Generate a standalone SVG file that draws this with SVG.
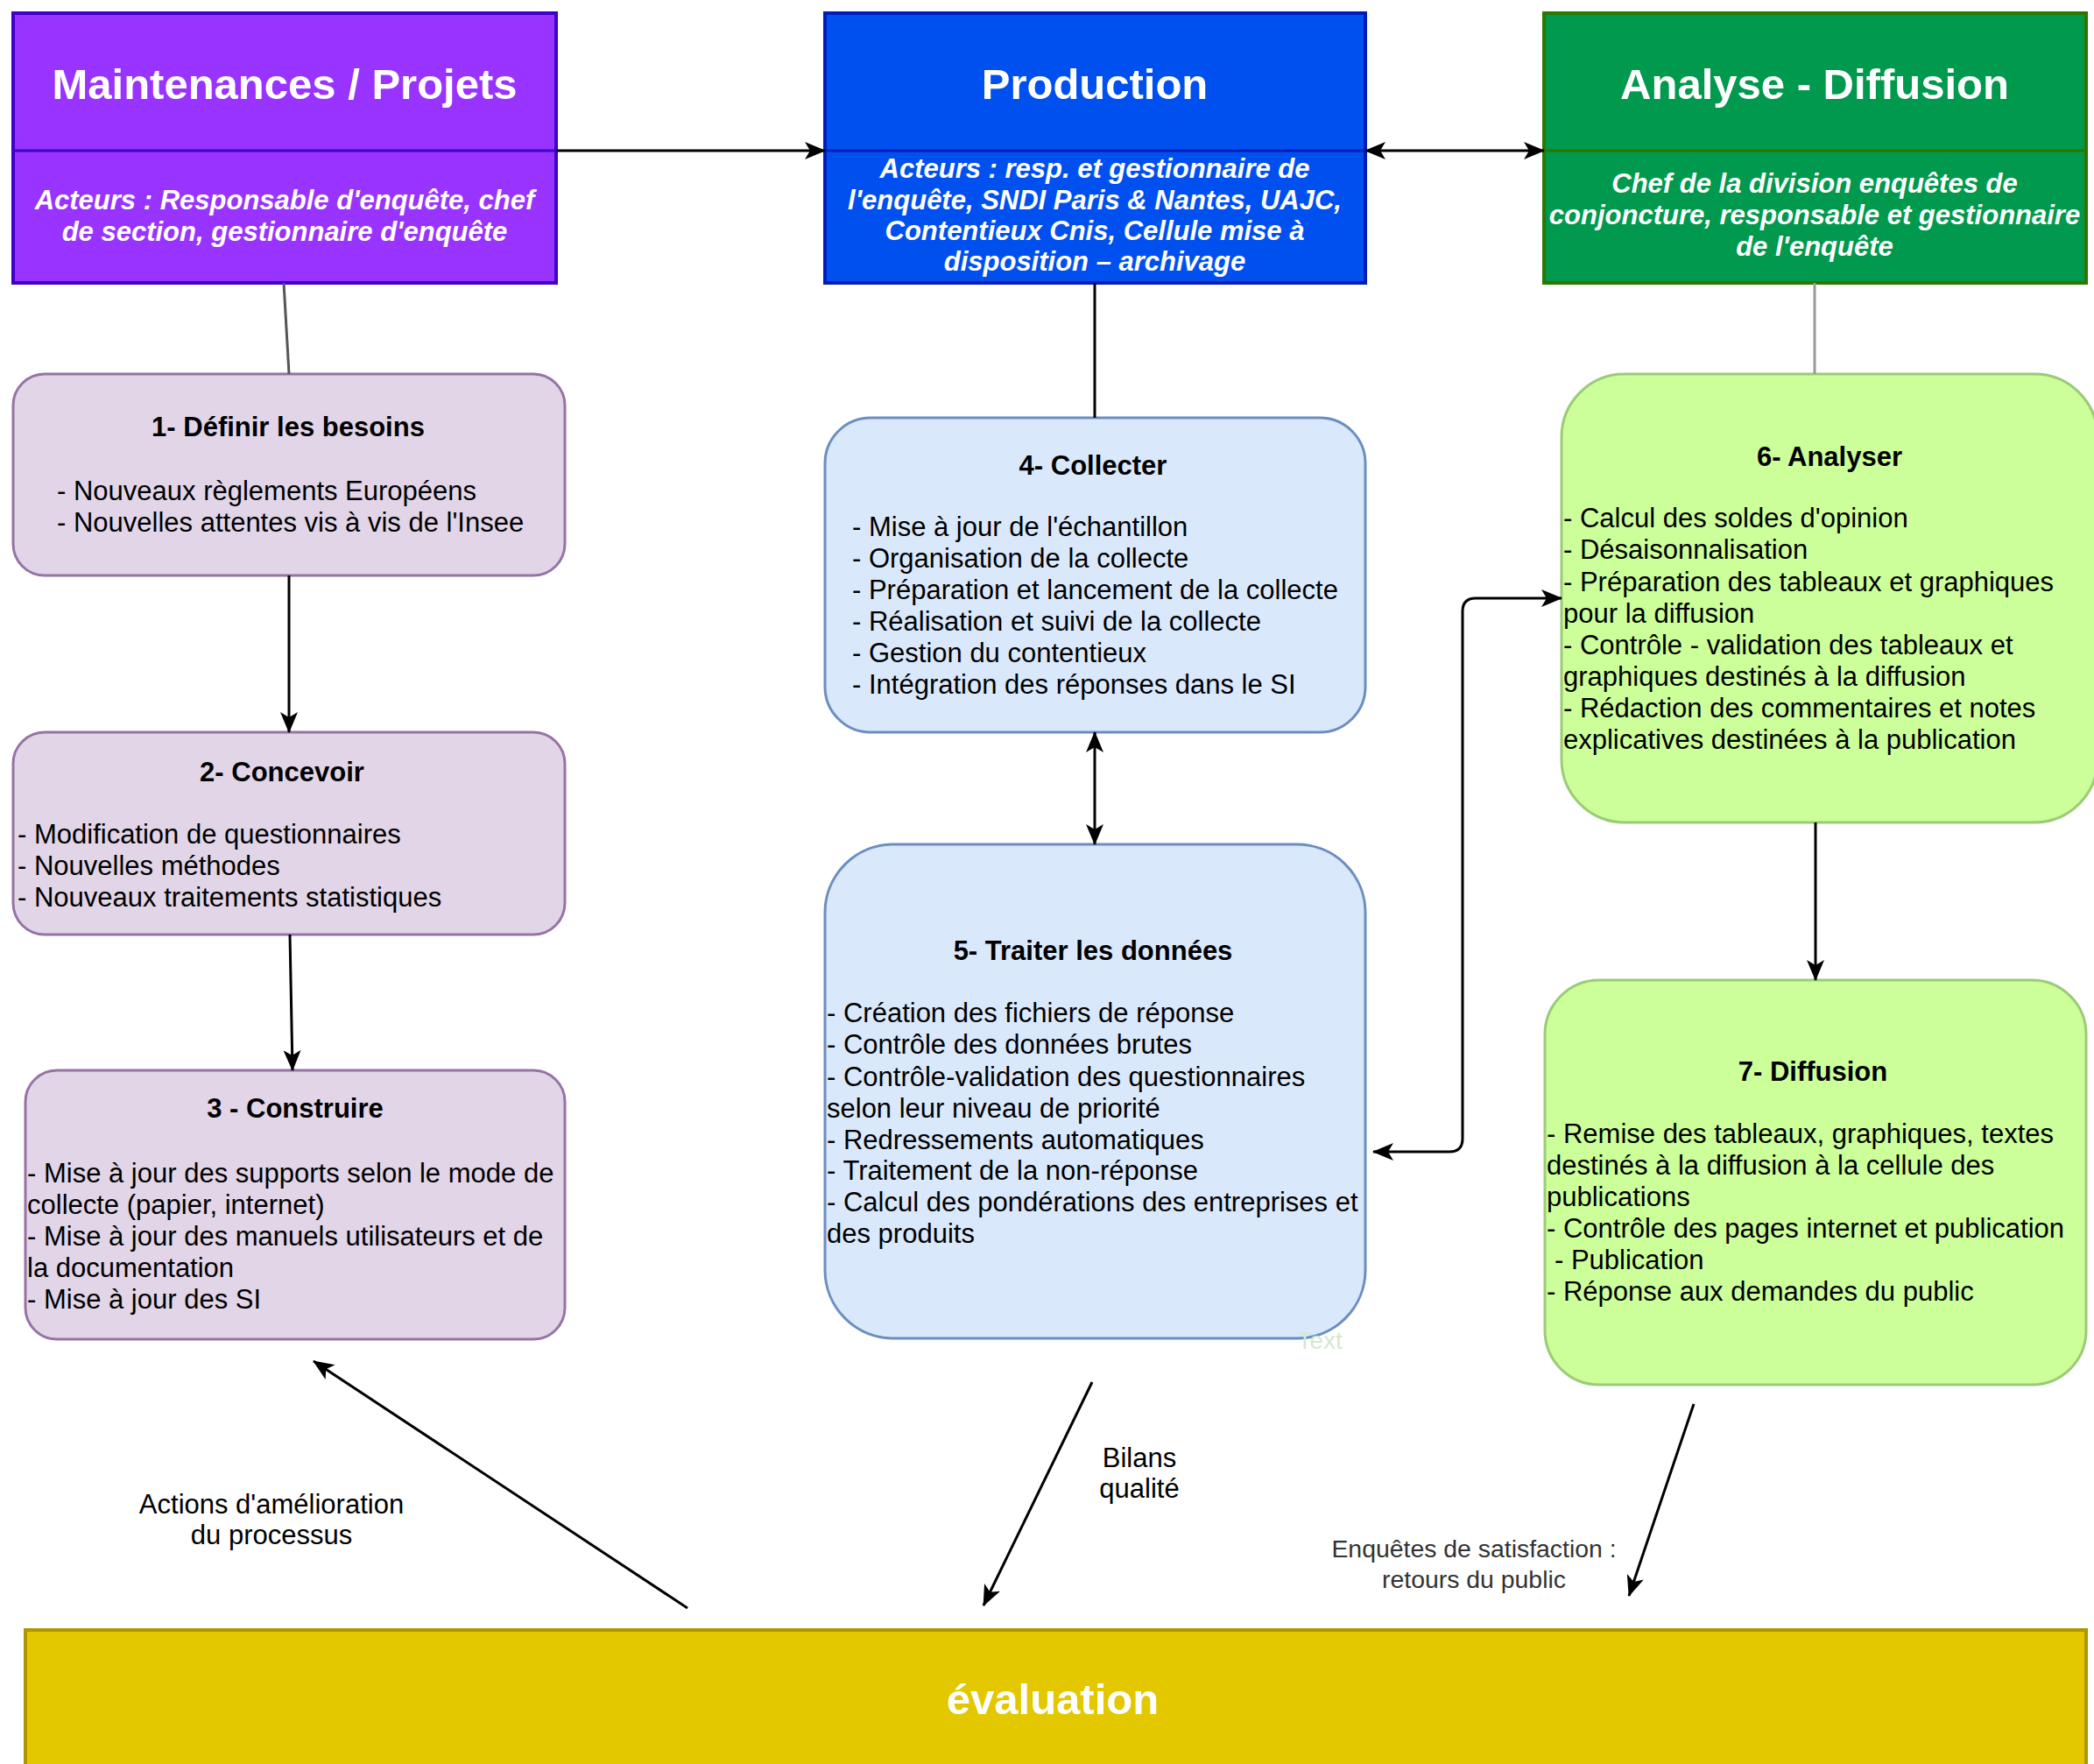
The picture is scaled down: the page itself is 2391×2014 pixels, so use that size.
<svg xmlns="http://www.w3.org/2000/svg" width="2391" height="2014" viewBox="0 0 2391 2014">
<defs>
<marker id="arr" markerUnits="userSpaceOnUse" markerWidth="24" markerHeight="20" viewBox="0 0 24 20" refX="23" refY="10" orient="auto-start-reverse">
<path d="M0,0 L24,10 L0,20 L6,10 z" fill="#000"/>
</marker>
<style>
text{font-family:"Liberation Sans",Arial,sans-serif;}
.ht{font-size:49px;font-weight:bold;fill:#fff;text-anchor:middle;}
.hs{font-size:31px;font-weight:bold;font-style:italic;fill:#fff;text-anchor:middle;}
.t{font-size:31px;font-weight:bold;fill:#000;text-anchor:middle;}
.b{font-size:31px;fill:#000;}
.lbl{font-size:31px;fill:#000;text-anchor:middle;}
.lbl2{font-size:28.4px;fill:#333;text-anchor:middle;}
.pur{fill:#E1D5E7;stroke:#9673A6;stroke-width:3;}
.blu{fill:#DAE8FC;stroke:#6C8EBF;stroke-width:3;}
.grn{fill:#CCFF99;stroke:#9CCB78;stroke-width:3;}
.c{fill:none;stroke:#000;stroke-width:3;}
</style>
</defs>

<g id="header-maintenances">
<rect x="15" y="15" width="620" height="308" fill="#9933FF" stroke="#3F00CC" stroke-width="4"/>
<line x1="15" y1="172" x2="635" y2="172" stroke="#3F00CC" stroke-width="3"/>
<text class="ht" x="325" y="113">Maintenances / Projets</text>
<text class="hs" x="325" y="239">Acteurs : Responsable d'enquête, chef</text>
<text class="hs" x="325" y="275">de section, gestionnaire d'enquête</text>
</g>

<g id="header-production">
<rect x="942" y="15" width="617" height="308" fill="#0050EF" stroke="#001DBC" stroke-width="4"/>
<line x1="942" y1="172" x2="1559" y2="172" stroke="#001DBC" stroke-width="3"/>
<text class="ht" x="1250" y="113">Production</text>
<text class="hs" x="1250" y="203">Acteurs : resp. et gestionnaire de</text>
<text class="hs" x="1250" y="239">l'enquête, SNDI Paris &amp; Nantes, UAJC,</text>
<text class="hs" x="1250" y="274">Contentieux Cnis, Cellule mise à</text>
<text class="hs" x="1250" y="309">disposition – archivage</text>
</g>

<g id="header-analyse">
<rect x="1763" y="15" width="619" height="308" fill="#00994D" stroke="#2D7600" stroke-width="4"/>
<line x1="1763" y1="172" x2="2382" y2="172" stroke="#2D7600" stroke-width="3"/>
<text class="ht" x="2072" y="113">Analyse - Diffusion</text>
<text class="hs" x="2072" y="220">Chef de la division enquêtes de</text>
<text class="hs" x="2072" y="256">conjoncture, responsable et gestionnaire</text>
<text class="hs" x="2072" y="292">de l'enquête</text>
</g>

<g id="box1">
<rect class="pur" x="15" y="427" width="630" height="230" rx="36"/>
<text class="t" x="329" y="498">1- Définir les besoins</text>
<text class="b" x="65" y="571">- Nouveaux règlements Européens</text>
<text class="b" x="65" y="607">- Nouvelles attentes vis à vis de l'Insee</text>
</g>

<g id="box2">
<rect class="pur" x="15" y="836" width="630" height="231" rx="36"/>
<text class="t" x="322" y="892">2- Concevoir</text>
<text class="b" x="20" y="963">- Modification de questionnaires</text>
<text class="b" x="20" y="999">- Nouvelles méthodes</text>
<text class="b" x="20" y="1035">- Nouveaux traitements statistiques</text>
</g>

<g id="box3">
<rect class="pur" x="29" y="1222" width="616" height="307" rx="36"/>
<text class="t" x="337" y="1276">3 - Construire</text>
<text class="b" x="31" y="1350">- Mise à jour des supports selon le mode de</text>
<text class="b" x="31" y="1386">collecte (papier, internet)</text>
<text class="b" x="31" y="1422">- Mise à jour des manuels utilisateurs et de</text>
<text class="b" x="31" y="1458">la documentation</text>
<text class="b" x="31" y="1494">- Mise à jour des SI</text>
</g>

<g id="box4">
<rect class="blu" x="942" y="477" width="617" height="359" rx="52"/>
<text class="t" x="1248" y="542">4- Collecter</text>
<text class="b" x="973" y="612">- Mise à jour de l'échantillon</text>
<text class="b" x="973" y="648">- Organisation de la collecte</text>
<text class="b" x="973" y="684">- Préparation et lancement de la collecte</text>
<text class="b" x="973" y="720">- Réalisation et suivi de la collecte</text>
<text class="b" x="973" y="756">- Gestion du contentieux</text>
<text class="b" x="973" y="792">- Intégration des réponses dans le SI</text>
</g>

<g id="box5">
<rect class="blu" x="942" y="964" width="617" height="564" rx="78"/>
<text class="t" x="1248" y="1096">5- Traiter les données</text>
<text class="b" x="944" y="1167">- Création des fichiers de réponse</text>
<text class="b" x="944" y="1203">- Contrôle des données brutes</text>
<text class="b" x="944" y="1240">- Contrôle-validation des questionnaires</text>
<text class="b" x="944" y="1276">selon leur niveau de priorité</text>
<text class="b" x="944" y="1312">- Redressements automatiques</text>
<text class="b" x="944" y="1347">- Traitement de la non-réponse</text>
<text class="b" x="944" y="1383">- Calcul des pondérations des entreprises et</text>
<text class="b" x="944" y="1419">des produits</text>
<text x="1507" y="1540" font-size="28" fill="#D4E9CF" text-anchor="middle">Text</text>
</g>

<g id="box6">
<rect class="grn" x="1783" y="427" width="612" height="512" rx="72"/>
<text class="t" x="2089" y="532">6- Analyser</text>
<text class="b" x="1785" y="602">- Calcul des soldes d'opinion</text>
<text class="b" x="1785" y="638">- Désaisonnalisation</text>
<text class="b" x="1785" y="675">- Préparation des tableaux et graphiques</text>
<text class="b" x="1785" y="711">pour la diffusion</text>
<text class="b" x="1785" y="747">- Contrôle - validation des tableaux et</text>
<text class="b" x="1785" y="783">graphiques destinés à la diffusion</text>
<text class="b" x="1785" y="819">- Rédaction des commentaires et notes</text>
<text class="b" x="1785" y="855">explicatives destinées à la publication</text>
</g>

<g id="box7">
<rect class="grn" x="1764" y="1119" width="618" height="462" rx="62"/>
<text class="t" x="2070" y="1234">7- Diffusion</text>
<text class="b" x="1766" y="1305">- Remise des tableaux, graphiques, textes</text>
<text class="b" x="1766" y="1341">destinés à la diffusion à la cellule des</text>
<text class="b" x="1766" y="1377">publications</text>
<text class="b" x="1766" y="1413">- Contrôle des pages internet et publication</text>
<text class="b" x="1775" y="1449">- Publication</text>
<text class="b" x="1766" y="1485">- Réponse aux demandes du public</text>
</g>

<g id="evaluation">
<rect x="29" y="1861" width="2353" height="180" fill="#E3C800" stroke="#B09500" stroke-width="4"/>
<text class="ht" x="1202" y="1957">évaluation</text>
</g>

<g id="connectors">
<line class="c" x1="635" y1="172" x2="942" y2="172" marker-end="url(#arr)"/>
<line class="c" x1="1559" y1="172" x2="1763" y2="172" marker-start="url(#arr)" marker-end="url(#arr)"/>
<line x1="324" y1="323" x2="330" y2="427" stroke="#555" stroke-width="3"/>
<line class="c" x1="1250" y1="323" x2="1250" y2="477"/>
<line x1="2072" y1="323" x2="2072" y2="427" stroke="#999" stroke-width="3"/>
<line class="c" x1="330" y1="657" x2="330" y2="836" marker-end="url(#arr)"/>
<line class="c" x1="331" y1="1067" x2="334" y2="1222" marker-end="url(#arr)"/>
<line class="c" x1="1250" y1="836" x2="1250" y2="964" marker-start="url(#arr)" marker-end="url(#arr)"/>
<line class="c" x1="2073" y1="939" x2="2073" y2="1119" marker-end="url(#arr)"/>
<path class="c" d="M1568,1315 L1655,1315 Q1670,1315 1670,1300 L1670,698 Q1670,683 1685,683 L1783,683" marker-start="url(#arr)" marker-end="url(#arr)"/>
<line class="c" x1="785" y1="1836" x2="358" y2="1554" marker-end="url(#arr)"/>
<line class="c" x1="1247" y1="1578" x2="1123" y2="1833" marker-end="url(#arr)"/>
<line class="c" x1="1934" y1="1603" x2="1860" y2="1822" marker-end="url(#arr)"/>
<text class="lbl" x="310" y="1728">Actions d'amélioration</text>
<text class="lbl" x="310" y="1763">du processus</text>
<text class="lbl" x="1301" y="1675">Bilans</text>
<text class="lbl" x="1301" y="1710">qualité</text>
<text class="lbl2" x="1683" y="1778">Enquêtes de satisfaction :</text>
<text class="lbl2" x="1683" y="1813">retours du public</text>
</g>
</svg>
